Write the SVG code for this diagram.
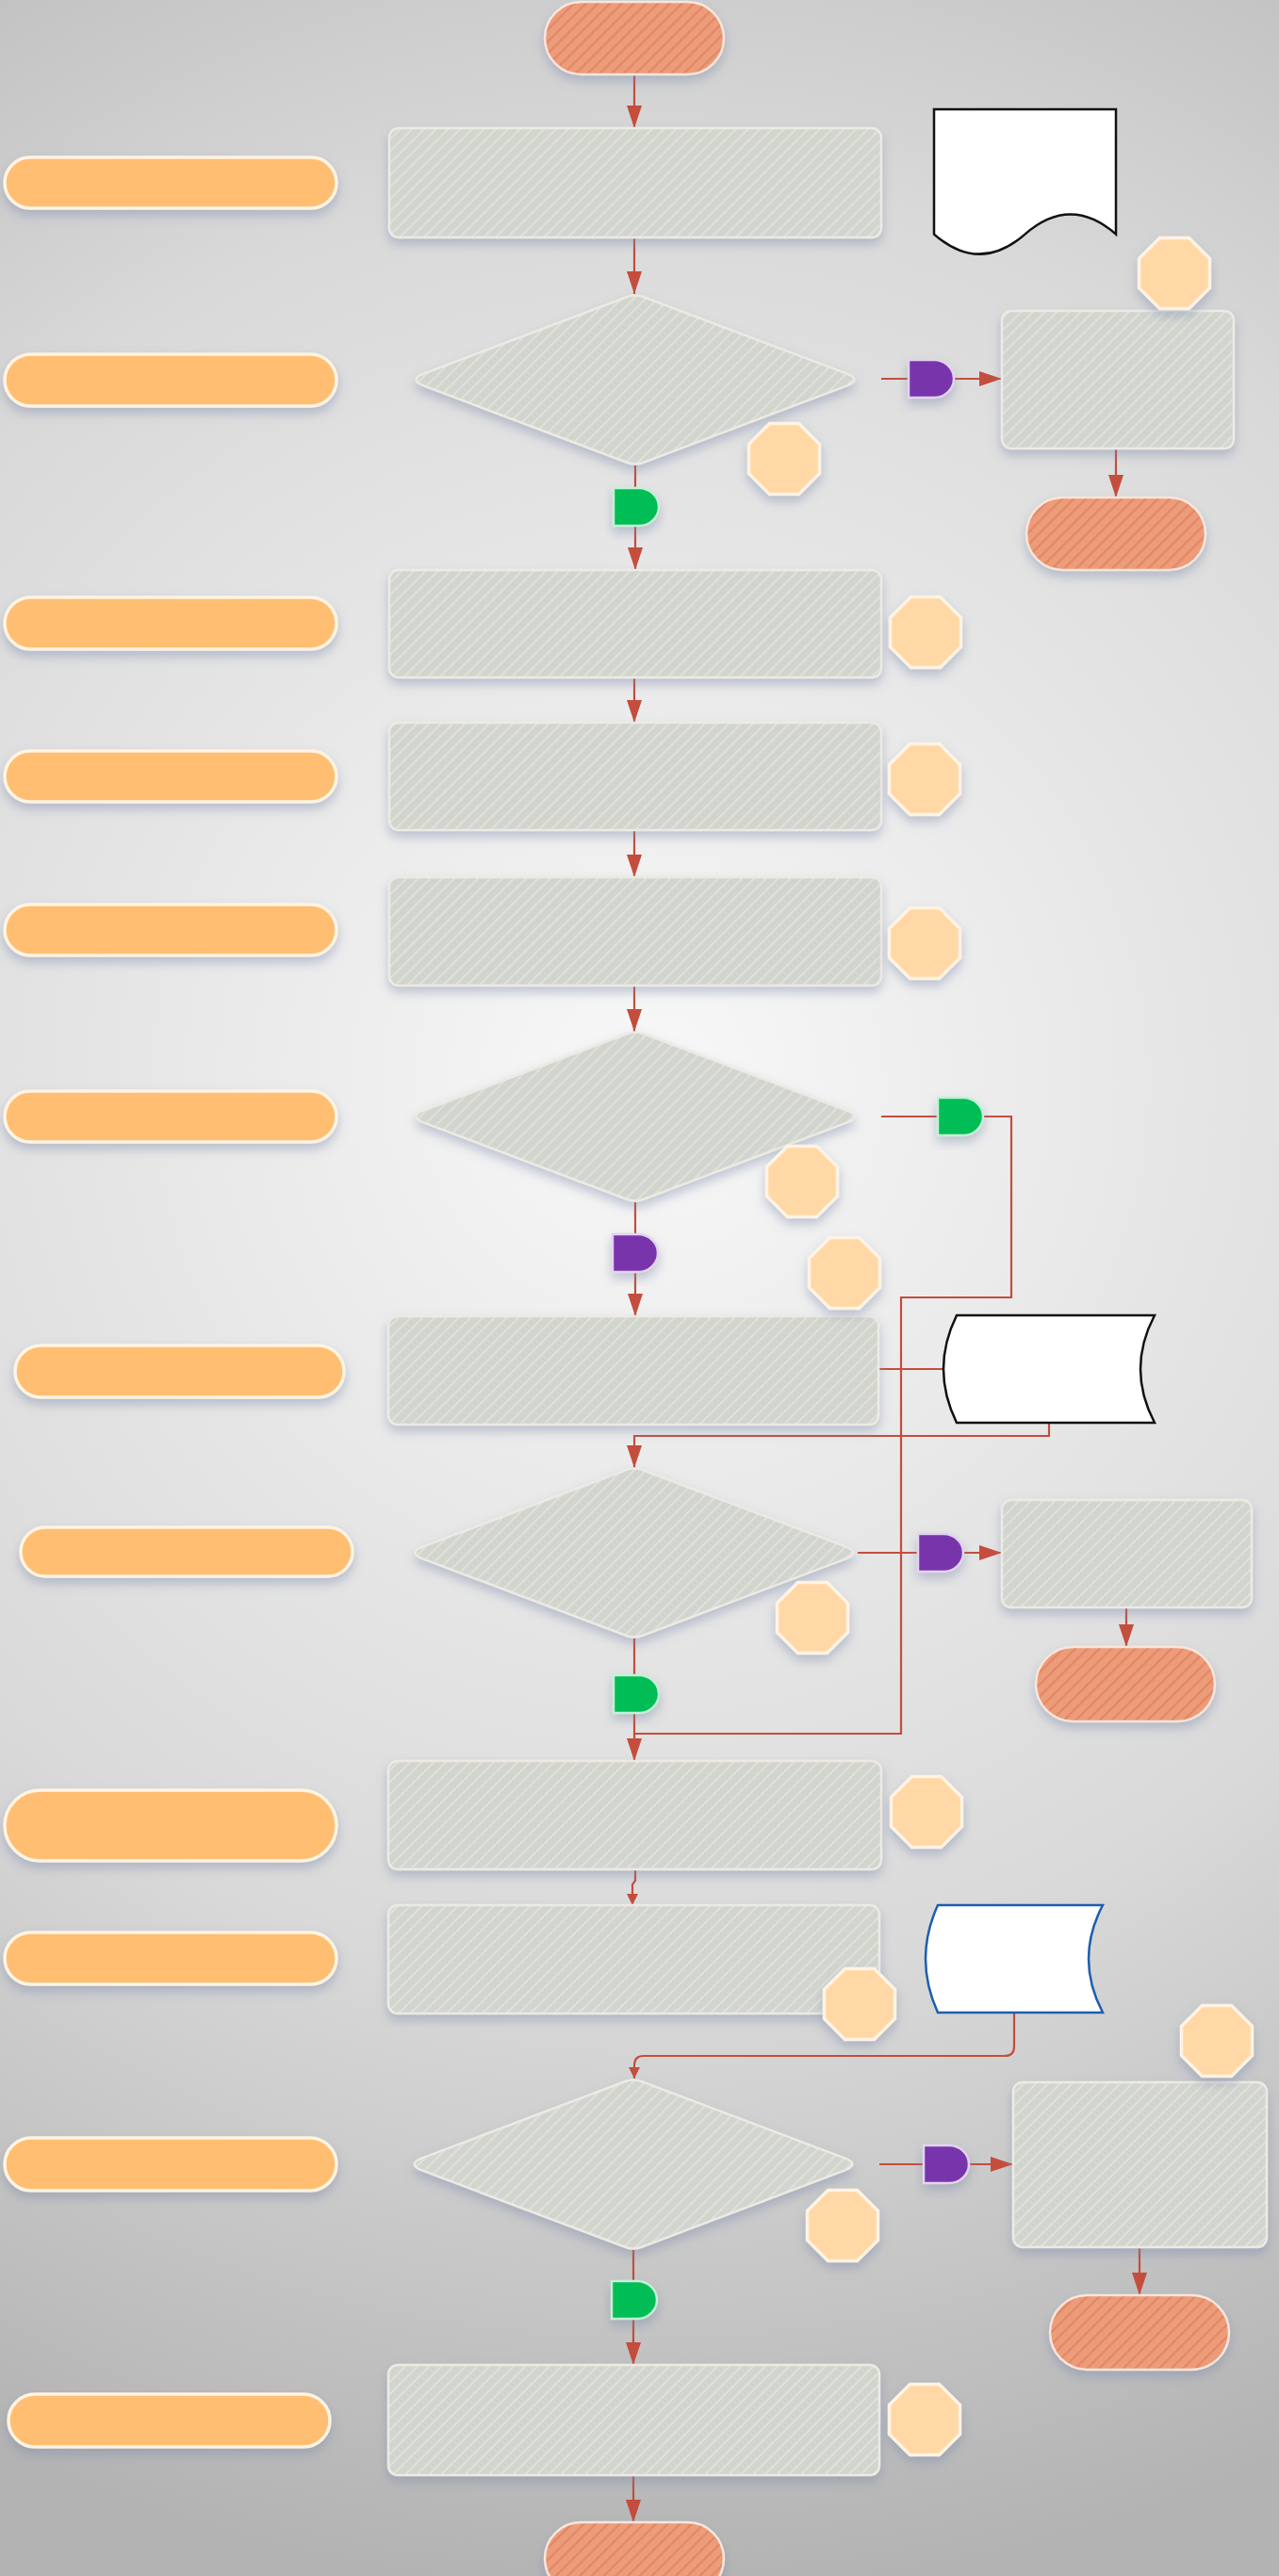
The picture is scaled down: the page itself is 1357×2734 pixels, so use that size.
<svg xmlns="http://www.w3.org/2000/svg" xmlns:xlink="http://www.w3.org/1999/xlink" width="1357" height="2734" viewBox="0 0 1357 2734">
<defs>
<radialGradient id="bg" gradientUnits="userSpaceOnUse" cx="690" cy="1150" r="1600">
<stop offset="0" stop-color="#f8f8f8"/>
<stop offset="0.6" stop-color="#d9d9d9"/>
<stop offset="1" stop-color="#b3b3b3"/>
</radialGradient>
<pattern id="hatchG" patternUnits="userSpaceOnUse" width="9" height="9" patternTransform="rotate(45)">
<rect width="9" height="9" fill="#d2d5ce"/>
<line x1="1" y1="0" x2="1" y2="9" stroke="#dfe1db" stroke-width="2"/>
</pattern>
<pattern id="hatchT" patternUnits="userSpaceOnUse" width="9" height="9" patternTransform="rotate(45)">
<rect width="9" height="9" fill="#ed9c7a"/>
<line x1="1" y1="0" x2="1" y2="9" stroke="#e28765" stroke-width="2.5"/>
</pattern>
<filter id="sh" x="-20%" y="-30%" width="140%" height="170%">
<feDropShadow dx="0" dy="6" stdDeviation="6" flood-color="#7b8aac" flood-opacity="0.45"/>
</filter>
<marker id="arr" markerUnits="userSpaceOnUse" markerWidth="26" markerHeight="18" refX="24" refY="8" orient="auto" viewBox="0 0 26 18">
<path d="M0,0 L24,8 L0,16 Z" fill="#c44d3d"/>
</marker>
<marker id="arrS" markerUnits="userSpaceOnUse" markerWidth="14" markerHeight="14" refX="12" refY="6" orient="auto" viewBox="0 0 14 14">
<path d="M0,0 L12,6 L0,12 Z" fill="#c44d3d"/>
</marker>
<path id="dia" d="M -224 -6.6 L -8.4 -88 Q 0 -91 8.4 -88 L 224 -6.6 Q 241 0 224 6.6 L 8.4 88 Q 0 91 -8.4 88 L -224 6.6 Q -241 0 -224 -6.6 Z"/>
<polygon id="oct" points="15.5,-37.5 37.5,-15.5 37.5,15.5 15.5,37.5 -15.5,37.5 -37.5,15.5 -37.5,-15.5 -15.5,-37.5"/>
<path id="dsh" d="M -24 -20 H 3 A 21 20 0 0 1 3 20 H -24 Z"/>
</defs>
<style>
.proc{fill:url(#hatchG);stroke:#eceae3;stroke-width:2.5;filter:url(#sh)}
.term{fill:url(#hatchT);stroke:#f6e6dc;stroke-width:2.5;filter:url(#sh)}
.pill{fill:#ffbe72;stroke:#fff4e3;stroke-width:3.5;filter:url(#sh)}
.octa{fill:#ffd8a6;stroke:#fff3e4;stroke-width:3.5;filter:url(#sh)}
.dg{fill:#05bd55;stroke:#c4f1d6;stroke-width:2.5;filter:url(#sh)}
.dp{fill:#7834ab;stroke:#e3d3ef;stroke-width:2.5;filter:url(#sh)}
.doc{fill:#ffffff;stroke:#111111;stroke-width:2.5}
.docb{fill:#ffffff;stroke:#1e5eae;stroke-width:2.5}
.c{fill:none;stroke:#c44d3d;stroke-width:2.2}
</style>
<rect x="0" y="0" width="1357" height="2734" fill="url(#bg)"/>

<g id="connectors">
<path class="c" d="M 673 79 V 136" marker-end="url(#arr)"/>
<path class="c" d="M 673 252 V 312" marker-end="url(#arr)"/>
<path class="c" d="M 935 402 H 1063" marker-end="url(#arr)"/>
<path class="c" d="M 1184 476 V 528" marker-end="url(#arr)"/>
<path class="c" d="M 674 494 V 605" marker-end="url(#arr)"/>
<path class="c" d="M 673 719 V 767" marker-end="url(#arr)"/>
<path class="c" d="M 673 881 V 931" marker-end="url(#arr)"/>
<path class="c" d="M 673 1046 V 1095" marker-end="url(#arr)"/>
<path class="c" d="M 935 1185 H 1073 V 1377 H 956 V 1840 H 673"/>
<path class="c" d="M 674 1276 V 1397" marker-end="url(#arr)"/>
<path class="c" d="M 932 1453 H 1001"/>
<path class="c" d="M 1113 1510 V 1524 H 673 V 1558" marker-end="url(#arr)"/>
<path class="c" d="M 910 1648 H 1063" marker-end="url(#arr)"/>
<path class="c" d="M 1195 1706 V 1748" marker-end="url(#arr)"/>
<path class="c" d="M 673 1739 V 1869" marker-end="url(#arr)"/>
<path class="c" d="M 674 1984 V 1996 L 671 2000 V 2022" marker-end="url(#arrS)"/>
<path class="c" d="M 1076 2136 V 2172 Q 1076 2182 1066 2182 H 683 Q 673 2182 673 2192 V 2206" marker-end="url(#arrS)"/>
<path class="c" d="M 933 2297 H 1075" marker-end="url(#arr)"/>
<path class="c" d="M 1209 2385 V 2436" marker-end="url(#arr)"/>
<path class="c" d="M 672 2388 V 2510" marker-end="url(#arr)"/>
<path class="c" d="M 672 2627 V 2677" marker-end="url(#arr)"/>
</g>

<g id="start"><rect class="term" x="578" y="2" width="190" height="77" rx="38.5"/></g>
<g id="end1"><rect class="term" x="1089" y="528" width="190" height="77" rx="38.5"/></g>
<g id="end2"><rect class="term" x="1099" y="1748" width="190" height="79" rx="39.5"/></g>
<g id="end3"><rect class="term" x="1114" y="2436" width="190" height="79" rx="39.5"/></g>
<g id="end4"><rect class="term" x="578" y="2677" width="190" height="77" rx="38.5"/></g>

<g id="step1"><rect class="proc" x="413" y="136" width="522" height="116" rx="10"/></g>
<g id="step2"><rect class="proc" x="413" y="605" width="522" height="114" rx="10"/></g>
<g id="step3"><rect class="proc" x="413" y="767" width="522" height="114" rx="10"/></g>
<g id="step4"><rect class="proc" x="413" y="931" width="522" height="115" rx="10"/></g>
<g id="step5"><rect class="proc" x="412" y="1397" width="520" height="115" rx="10"/></g>
<g id="step6"><rect class="proc" x="412" y="1869" width="523" height="115" rx="10"/></g>
<g id="step7"><rect class="proc" x="412" y="2022" width="521" height="115" rx="10"/></g>
<g id="step8"><rect class="proc" x="412" y="2510" width="521" height="117" rx="10"/></g>
<g id="side1"><rect class="proc" x="1063" y="330" width="246" height="146" rx="10"/></g>
<g id="side2"><rect class="proc" x="1063" y="1592" width="265" height="114" rx="10"/></g>
<g id="side3"><rect class="proc" x="1075" y="2210" width="269" height="175" rx="10"/></g>

<g id="decision1"><use href="#dia" class="proc" transform="translate(674 403)"/></g>
<g id="decision2"><use href="#dia" class="proc" transform="translate(674 1185)"/></g>
<g id="decision3"><use href="#dia" class="proc" transform="translate(673 1648)"/></g>
<g id="decision4"><use href="#dia" class="proc" transform="translate(672 2297)"/></g>

<g id="doc1"><path class="doc" d="M 991 116 H 1184 V 248.6 Q 1135.75 206.5 1087.5 248.6 Q 1039.25 290.7 991 248.6 Z"/></g>
<g id="store1"><path class="doc" d="M 1015 1396 H 1225 Q 1195 1453 1225 1510 H 1015 Q 987 1453 1015 1396 Z"/></g>
<g id="store2"><path class="docb" d="M 995 2022 H 1170 Q 1140 2079 1170 2136 H 995 Q 969 2079 995 2022 Z"/></g>

<g id="label1"><rect class="pill" x="5" y="167" width="352" height="54" rx="27"/></g>
<g id="label2"><rect class="pill" x="5" y="376" width="352" height="55" rx="27.5"/></g>
<g id="label3"><rect class="pill" x="5" y="634" width="352" height="55" rx="27.5"/></g>
<g id="label4"><rect class="pill" x="5" y="797" width="352" height="54" rx="27"/></g>
<g id="label5"><rect class="pill" x="5" y="960" width="352" height="54" rx="27"/></g>
<g id="label6"><rect class="pill" x="5" y="1158" width="352" height="54" rx="27"/></g>
<g id="label7"><rect class="pill" x="16" y="1428" width="349" height="55" rx="27.5"/></g>
<g id="label8"><rect class="pill" x="22" y="1621" width="352" height="52" rx="26"/></g>
<g id="label9"><rect class="pill" x="5" y="1900" width="352" height="75" rx="37.5"/></g>
<g id="label10"><rect class="pill" x="5" y="2051" width="352" height="55" rx="27.5"/></g>
<g id="label11"><rect class="pill" x="5" y="2269" width="352" height="56" rx="28"/></g>
<g id="label12"><rect class="pill" x="9" y="2541" width="341" height="56" rx="28"/></g>

<g id="note1"><use href="#oct" class="octa" transform="translate(1246 290)"/></g>
<g id="note2"><use href="#oct" class="octa" transform="translate(832 487)"/></g>
<g id="note3"><use href="#oct" class="octa" transform="translate(982 671)"/></g>
<g id="note4"><use href="#oct" class="octa" transform="translate(981 827)"/></g>
<g id="note5"><use href="#oct" class="octa" transform="translate(981 1001)"/></g>
<g id="note6"><use href="#oct" class="octa" transform="translate(851 1254)"/></g>
<g id="note7"><use href="#oct" class="octa" transform="translate(896 1351)"/></g>
<g id="note8"><use href="#oct" class="octa" transform="translate(862 1717)"/></g>
<g id="note9"><use href="#oct" class="octa" transform="translate(983 1923)"/></g>
<g id="note10"><use href="#oct" class="octa" transform="translate(912 2127)"/></g>
<g id="note11"><use href="#oct" class="octa" transform="translate(1291 2166)"/></g>
<g id="note12"><use href="#oct" class="octa" transform="translate(894 2362)"/></g>
<g id="note13"><use href="#oct" class="octa" transform="translate(981 2568)"/></g>

<g id="yes1"><use href="#dsh" class="dg" transform="translate(675 538)"/></g>
<g id="no1"><use href="#dsh" class="dp" transform="translate(988 402)"/></g>
<g id="yes2"><use href="#dsh" class="dg" transform="translate(1019 1185)"/></g>
<g id="no2"><use href="#dsh" class="dp" transform="translate(674 1330)"/></g>
<g id="no3"><use href="#dsh" class="dp" transform="translate(998 1648)"/></g>
<g id="yes3"><use href="#dsh" class="dg" transform="translate(675 1798)"/></g>
<g id="no4"><use href="#dsh" class="dp" transform="translate(1004 2297)"/></g>
<g id="yes4"><use href="#dsh" class="dg" transform="translate(673 2441)"/></g>
</svg>
